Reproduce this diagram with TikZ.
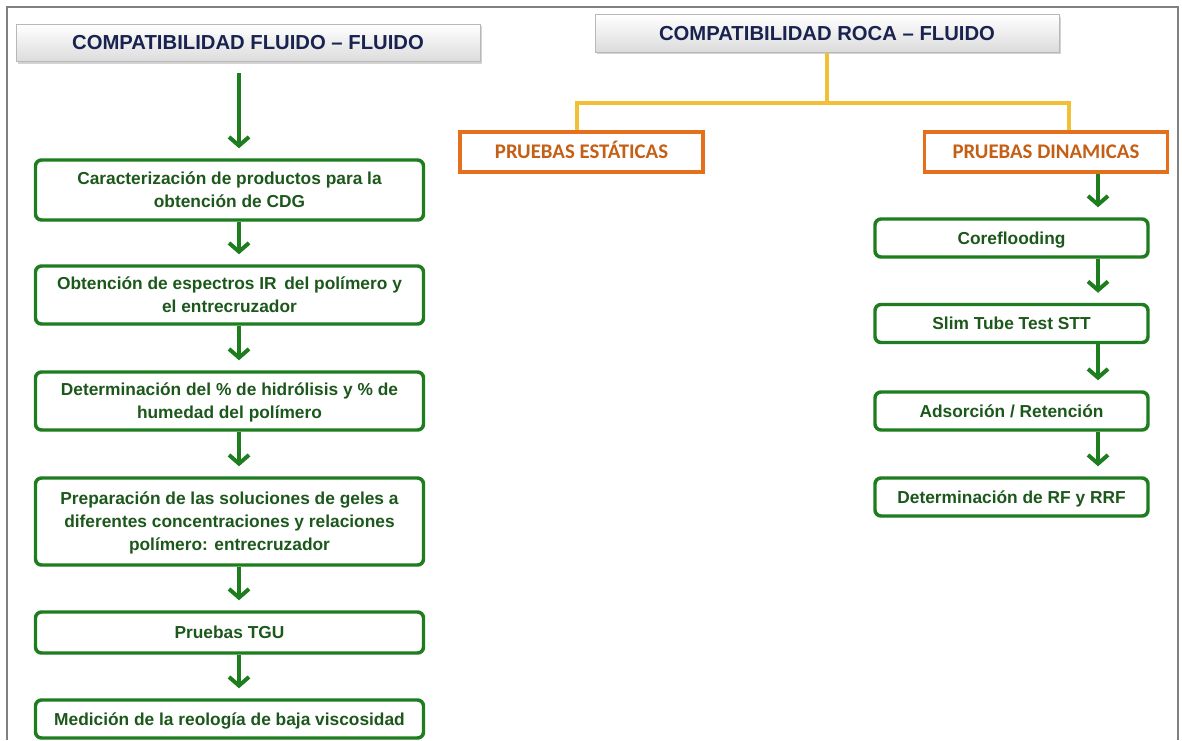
\documentclass[tikz,border=0pt]{standalone}
\usepackage{fontspec}
\setmainfont{Liberation Sans}
\newfontfamily\labelfont{Carlito}
\usetikzlibrary{arrows.meta,shadows,calc}

\definecolor{framegray}{RGB}{128,128,128}
\definecolor{titlenavy}{RGB}{25,35,80}
\definecolor{stepgreen}{RGB}{30,125,30}
\definecolor{steptext}{RGB}{28,88,28}
\definecolor{linkyellow}{RGB}{242,192,52}
\definecolor{testorange}{RGB}{228,112,30}
\definecolor{testtext}{RGB}{196,96,22}

\tikzset{
  titlebox/.style={minimum width=348pt, minimum height=28pt, inner sep=0pt,
    top color=white, bottom color=black!14, draw=black!28, line width=0.6pt,
    drop shadow={shadow xshift=1.2pt, shadow yshift=-1.6pt, opacity=0.35},
    font=\bfseries\fontsize{15.2}{18}\selectfont, text=titlenavy},
  stepbox/.style={draw=stepgreen, line width=2.6pt, rounded corners=4.5pt,
    fill=white, inner sep=0pt, align=center, text=steptext,
    font=\bfseries\fontsize{13}{17.25}\selectfont,
    text depth=-1.5pt,
    drop shadow={shadow xshift=0.8pt, shadow yshift=-1pt, opacity=0.18}},
  leftstep/.style={stepbox, minimum width=291pt},
  rightstep/.style={stepbox, minimum width=204.75pt, minimum height=28.5pt},
  testbox/.style={draw=testorange, line width=2.6pt, fill=white, inner sep=0pt,
    minimum width=182.5pt, minimum height=30pt, text=testtext,
    text height=10pt, text depth=0pt,
    font=\labelfont\bfseries\fontsize{15.6}{18}\selectfont,
    drop shadow={shadow xshift=1pt, shadow yshift=-1.4pt, opacity=0.25}},
  garrow/.style={draw=stepgreen, line width=3pt,
    -{Straight Barb[length=6.5pt,width=15pt]}, shorten >=7.5pt},
  linkline/.style={draw=linkyellow, line width=2.8pt}
}

\begin{document}
\begin{tikzpicture}[x=0.75pt, y=-0.75pt]
\useasboundingbox (0,0) rectangle (1182,740);

% outer frame, open at the bottom
\draw[framegray, line width=1.5pt] (7,740) -- (7,7) -- (1178,7) -- (1178,740);

% ---- left column: fluid-fluid compatibility
\node[titlebox] (ttlL) at (248,43) {COMPATIBILIDAD FLUIDO -- FLUIDO};

\node[leftstep, minimum height=45pt] (b1) at (229.5,190)
  {Caracterización de productos para la\\obtención de CDG};
\node[leftstep, minimum height=43.5pt] (b2) at (229.5,295)
  {Obtención de espectros IR\, del polímero y\\el entrecruzador};
\node[leftstep, minimum height=43.5pt] (b3) at (229.5,401)
  {Determinación del \% de hidrólisis y \% de\\humedad del polímero};
\node[leftstep, minimum height=65.25pt] (b4) at (229.5,521.5)
  {Preparación de las soluciones de geles a\\diferentes concentraciones y relaciones\\polímero: entrecruzador};
\node[leftstep, minimum height=30.75pt] (b5) at (229.5,632.5) {Pruebas TGU};
\node[leftstep, minimum height=28.5pt] (b6) at (229.5,719)
  {Medición de la reología de baja viscosidad};

\coordinate (lx) at (239,0);
\draw[garrow] ($(ttlL.south -| lx)+(0,11)$) -- (b1.north -| lx);
\draw[garrow] (b1.south -| lx) -- (b2.north -| lx);
\draw[garrow] (b2.south -| lx) -- (b3.north -| lx);
\draw[garrow] (b3.south -| lx) -- (b4.north -| lx);
\draw[garrow] (b4.south -| lx) -- (b5.north -| lx);
\draw[garrow] (b5.south -| lx) -- (b6.north -| lx);

% ---- right column: rock-fluid compatibility
\node[titlebox] (ttlR) at (827,33.5) {COMPATIBILIDAD ROCA -- FLUIDO};

\node[testbox] (est) at (581.5,152) {PRUEBAS ESTÁTICAS};
\node[testbox] (din) at (1046,152) {PRUEBAS DINAMICAS};

\coordinate (jL) at (577,103);
\coordinate (jR) at (1069,103);
\draw[linkline] (ttlR.south) -- (ttlR.south |- jL);
\draw[linkline] (est.north -| jL) -- (jL) -- (jR) -- (din.north -| jR);

\node[rightstep] (r1) at (1011.5,238) {Coreflooding};
\node[rightstep] (r2) at (1011.5,323.5) {Slim Tube Test STT};
\node[rightstep] (r3) at (1011.5,411) {Adsorción / Retención};
\node[rightstep] (r4) at (1011.5,497) {Determinación de RF y RRF};

\coordinate (rx) at (1098,0);
\draw[garrow] (din.south -| rx) -- (r1.north -| rx);
\draw[garrow] (r1.south -| rx) -- (r2.north -| rx);
\draw[garrow] (r2.south -| rx) -- (r3.north -| rx);
\draw[garrow] (r3.south -| rx) -- (r4.north -| rx);
\end{tikzpicture}
\end{document}
